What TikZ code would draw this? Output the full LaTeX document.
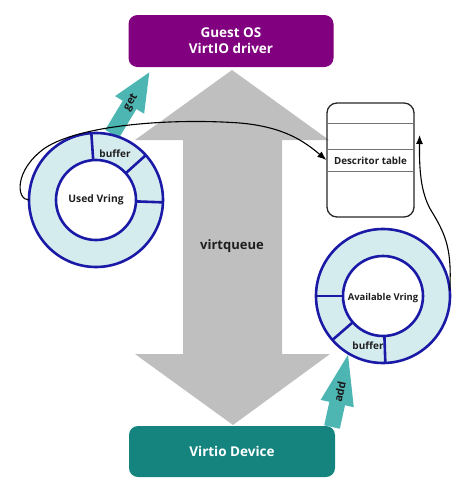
\documentclass[tikz,border=0pt]{standalone}
\usepackage{fontspec}
\setmainfont{Open Sans}
\usetikzlibrary{calc,arrows.meta}
\definecolor{guestpurple}{HTML}{800080}
\definecolor{devteal}{HTML}{15847F}
\definecolor{armteal}{HTML}{4DB6B3}
\definecolor{qgray}{HTML}{BFBFBF}
\definecolor{ringfill}{HTML}{D5ECEF}
\definecolor{ringblue}{HTML}{1A1AA6}
\definecolor{txt}{HTML}{1E1E1E}
\tikzset{
  hostbox/.style={rounded corners=9pt, minimum width=205pt, minimum height=52pt, inner sep=0pt,
    text=white, align=center, font=\bfseries\fontsize{13.5}{16}\selectfont},
  ringnode/.style={circle, minimum size=134pt, inner sep=0pt, outer sep=0pt},
  ringline/.style={draw=ringblue, line width=2.6pt},
  ringtext/.style={text=txt, font=\bfseries\fontsize{10}{11}\selectfont, inner sep=0pt},
  desctext/.style={text=txt, font=\bfseries\fontsize{9.8}{11}\selectfont, inner sep=0pt},
  armtext/.style={text=black!90, font=\bfseries\fontsize{11}{12}\selectfont, inner sep=0pt},
  conn/.style={draw=black, line width=1.1pt, -{Latex[length=9pt,width=7pt]}},
}
\begin{document}
\begin{tikzpicture}[x=1pt,y=-1pt]
\useasboundingbox (0,0) rectangle (472,496);
% gray double arrow (virtqueue)
\fill[qgray] (232,70) -- (329,140) -- (282,140) -- (282,354) -- (330,354) -- (233,425)
  -- (135,354) -- (183,354) -- (183,140) -- (135,140) -- cycle;
\node[font=\bfseries\fontsize{13}{15}\selectfont, text=txt] (vq) at (232,246) {virtqueue};
% boxes
\node[hostbox, fill=guestpurple] (guest) at (231,41) {Guest OS\\VirtIO driver};
\node[hostbox, fill=devteal, minimum height=51pt, minimum width=206pt] (dev) at (232,451.5) {Virtio Device};
% ring nodes
\node[ringnode] (used) at (96,200) {};
\node[ringnode] (avail) at (383,296) {};
% get arrow
\begin{scope}[shift={(112,134)}, rotate=58.8]
  \fill[armteal] (0,-8) -- (34,-8) -- (34,-17) -- (72,0) -- (34,17) -- (34,8) -- (0,8) -- cycle;
  \node[armtext, rotate=58.8] (gettxt) at (37,0) {get};
\end{scope}
% add arrow
\begin{scope}[shift={(332,427)}, rotate=77.5]
  \fill[armteal] (0,-8) -- (24,-8) -- (24,-17) -- (74,0) -- (24,17) -- (24,8) -- (0,8) -- cycle;
  \node[armtext, rotate=77.5] (addtxt) at (36,0) {add};
\end{scope}
% used ring
\fill[ringfill, even odd rule] (used.center) circle[radius=67] (used.center) circle[radius=40];
\draw[ringline] (used.center) circle[radius=67] (used.center) circle[radius=40];
\foreach \a in {-94,-42,2}
  \draw[ringline] ($(used.center)+(\a:40)$) -- ($(used.center)+(\a:67)$);
\node[ringtext, font=\bfseries\fontsize{10.3}{11}\selectfont] (usedlbl) at (used.center) {Used Vring};
\node[ringtext] (usedbuf) at (115,154) {buffer};
% available ring
\fill[ringfill, even odd rule] (avail.center) circle[radius=67] (avail.center) circle[radius=40];
\draw[ringline] (avail.center) circle[radius=67] (avail.center) circle[radius=40];
\foreach \a in {180,139,88}
  \draw[ringline] ($(avail.center)+(\a:40)$) -- ($(avail.center)+(\a:67)$);
\node[ringtext, font=\bfseries\fontsize{9.4}{10}\selectfont] (availlbl) at (383,298) {Available Vring};
\node[ringtext] (availbuf) at (368,346) {buffer};
% descriptor table
\node[draw=black!85, line width=1.3pt, rounded corners=10pt, minimum width=87pt, minimum height=114pt, inner sep=0pt] (desc) at (370.5,160) {};
\foreach \d in {21,47,69}
  \draw[black!55, line width=0.9pt] ($(desc.north west)+(0.7,\d)$) -- ($(desc.north east)+(-0.7,\d)$);
\node[desctext] (desclbl) at (370.5,161) {Descritor table};
% connectors
\draw[conn] (used.180) .. controls (16,200) and (14,170) .. (45,148)
  .. controls (80,125) and (170,118) .. (240,123)
  .. controls (285,127) and (305,142) .. (desc.west);
\coordinate (descin) at ($(desc.east)+(5,-25)$);
\draw[conn] (avail.5) .. controls (452,250) and (446,235) .. (432,212)
  .. controls (422,196) and (419,175) .. (descin);
\end{tikzpicture}
\end{document}
